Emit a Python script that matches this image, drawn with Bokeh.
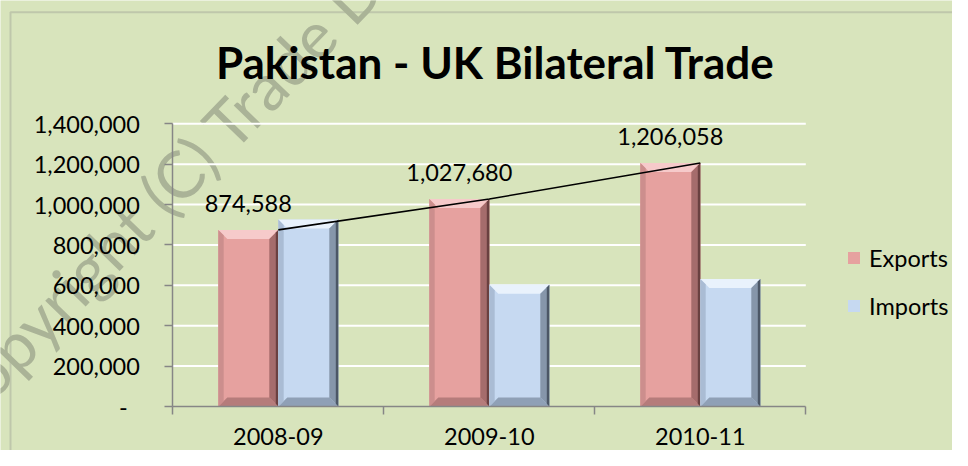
from bokeh.plotting import figure
from bokeh.models import (Range1d, FixedTicker, NumeralTickFormatter, Label, LabelSet,
                          ColumnDataSource, Legend, LegendItem, BoxAnnotation)
from bokeh.core.properties import value
from bokeh.embed import file_html
from bokeh.resources import INLINE
import numpy as np

# ---------------- data ----------------
categories = ["2008-09", "2009-10", "2010-11"]
exports = [874588, 1027680, 1206058]
imports = [926000, 603000, 632000]
y_ticks = [0, 200000, 400000, 600000, 800000, 1000000, 1200000, 1400000]
y_max = 1400000
series_names = ["Exports", "Imports"]
title_text = "Pakistan - UK Bilateral Trade"
watermark_text = "Copyright (C) Trade Development Authority of Pakistan"

# ---------------- layout / style ----------------
FONT = "Lato"
BG = "#D8E4BC"
AXIS = "#868686"
EXP = dict(base="#E6A19F", top="#F6CACA", right="#A56C6C", edge="#6A4040", bottom="#B57C7B", left="#CC8E8D")
IMP = dict(base="#C6D9F1", top="#E9F2FC", right="#8696AA", edge="#4C5766", bottom="#8FA0B6", left="#AABCD4")

W, H = 952, 450
PL, PR, PT, PB = 172.3, 805.3, 123.3, 406.0       # plot area in canvas pixels
ncat = len(categories)
XU = (PR - PL) / ncat                              # px per category
YU = (PB - PT) / y_max                             # px per value unit


def fx(px):
    return (px - PL) / XU


def fy(py):
    return (PB - py) / YU


p = figure(width=W, height=H, x_range=Range1d(fx(0), fx(W)), y_range=Range1d(fy(H), fy(0)),
           output_backend="svg", toolbar_location=None,
           min_border_left=0, min_border_right=0, min_border_top=0, min_border_bottom=0)
p.background_fill_color = BG
p.border_fill_color = BG
p.outline_line_color = None
p.grid.visible = False

# chart border (cropped at right/bottom like the reference)
p.add_layout(BoxAnnotation(left=fx(10), right=fx(W + 30), top=fy(11.7), bottom=fy(H + 30),
                           fill_alpha=0, line_color=AXIS, line_width=2, level="underlay"))

# watermark
p.add_layout(Label(x=fx(-56), y=fy(416), text=watermark_text,
                   angle=46, angle_units="deg", text_font=FONT, text_font_size="65px",
                   text_color="#AAB397", text_baseline="alphabetic", level="underlay"))

# horizontal grid lines across the plot area
p.segment(x0=0, x1=ncat, y0=y_ticks[1:], y1=y_ticks[1:], line_color="white", line_width=2)

centers = np.arange(ncat) + 0.5
bar_w = 60 / XU
offsets = [-bar_w / 2, bar_w / 2]

px_x = 1.0 / XU
px_y = 1.0 / YU
bx, by = 9 * px_x, 9 * px_y


def bevel(xc, tops, c):
    xs, ys, cols = [], [], []
    for x, t in zip(xc, tops):
        L, R, B, T = x - bar_w / 2, x + bar_w / 2, 0.0, t
        shapes = [
            ([L, R, R - bx, L + bx], [T, T, T - by, T - by], c["top"]),
            ([R, R, R - bx, R - bx], [T, B, B + by, T - by], c["right"]),
            ([L, R, R - bx, L + bx], [B, B, B + by, B + by], c["bottom"]),
            ([L, L + 0.6 * bx, L + 0.6 * bx, L], [T, T - 0.6 * by, B + 0.6 * by, B], c["left"]),
            ([R - 2.5 * px_x, R, R, R - 2.5 * px_x], [T - by * 0.3, T, B, B + by * 0.3], c["edge"]),
        ]
        for sx, sy, col in shapes:
            xs.append(sx)
            ys.append(sy)
            cols.append(col)
    return ColumnDataSource(dict(xs=xs, ys=ys, color=cols))


renderers = []
for vals, off, c in [(exports, offsets[0], EXP), (imports, offsets[1], IMP)]:
    xc = centers + off
    src = ColumnDataSource(dict(x=xc, top=vals))
    r = p.vbar(x="x", top="top", bottom=0, width=bar_w, source=src,
               fill_color=c["base"], line_color=None)
    renderers.append(r)
    p.patches(xs="xs", ys="ys", fill_color="color", line_color=None, source=bevel(xc, vals, c))

# trend line through the export values
p.line(x=centers, y=exports, line_color="black", line_width=1.6)

# data labels above export bars
lab_src = ColumnDataSource(dict(x=centers + offsets[0], y=exports,
                                text=["{:,}".format(v) for v in exports]))
p.add_layout(LabelSet(x="x", y="y", text="text", source=lab_src, y_offset=18,
                      text_align="center", text_baseline="alphabetic",
                      text_font=value(FONT), text_font_size=value("23.5px"), text_color="black"))

# axes, pinned to the plot area
ya = p.yaxis[0]
ya.fixed_location = 0
ya.bounds = (0, y_max)
ya.ticker = FixedTicker(ticks=y_ticks)
ya.formatter = NumeralTickFormatter(format="0,0")
ya.major_label_overrides = {0: "-\u00a0\u00a0"}
ya.axis_line_color = AXIS
ya.axis_line_width = 1.5
ya.major_tick_line_color = AXIS
ya.major_tick_line_width = 1.5
ya.major_tick_out = 8
ya.major_tick_in = 0
ya.minor_tick_line_color = None
ya.major_label_standoff = 25
ya.major_label_text_font = FONT
ya.major_label_text_font_size = "23.5px"
ya.major_label_text_color = "black"

xa = p.xaxis[0]
xa.fixed_location = 0
xa.bounds = (0, ncat)
xa.ticker = FixedTicker(ticks=list(centers), minor_ticks=list(range(ncat + 1)))
xa.major_label_overrides = {float(c): lab for c, lab in zip(centers, categories)}
xa.axis_line_color = AXIS
xa.axis_line_width = 1.5
xa.major_tick_line_color = None
xa.major_tick_out = 8
xa.minor_tick_line_color = AXIS
xa.minor_tick_line_width = 1.5
xa.minor_tick_out = 8
xa.minor_tick_in = 0
xa.major_label_standoff = 13
xa.major_label_text_font = FONT
xa.major_label_text_font_size = "23.5px"
xa.major_label_text_color = "black"

# title
p.add_layout(Label(x=fx(495), y=fy(61), text=title_text,
                   text_align="center", text_baseline="alphabetic",
                   text_font=FONT, text_font_style="bold", text_font_size="44px",
                   text_color="black"))

# legend (screen units from the frame's bottom-left corner)
legend = Legend(items=[LegendItem(label=n, renderers=[r]) for n, r in zip(series_names, renderers)],
                location=(846, H - 319.7), orientation="vertical",
                glyph_width=15, glyph_height=15, label_height=15, spacing=20,
                label_standoff=8, padding=0, margin=0,
                border_line_color=None, background_fill_alpha=0,
                label_text_font=FONT, label_text_font_size="23.5px", label_text_color="black",
                label_text_baseline="middle")
p.add_layout(legend)

open("out.html", "w").write(file_html(p, INLINE))
